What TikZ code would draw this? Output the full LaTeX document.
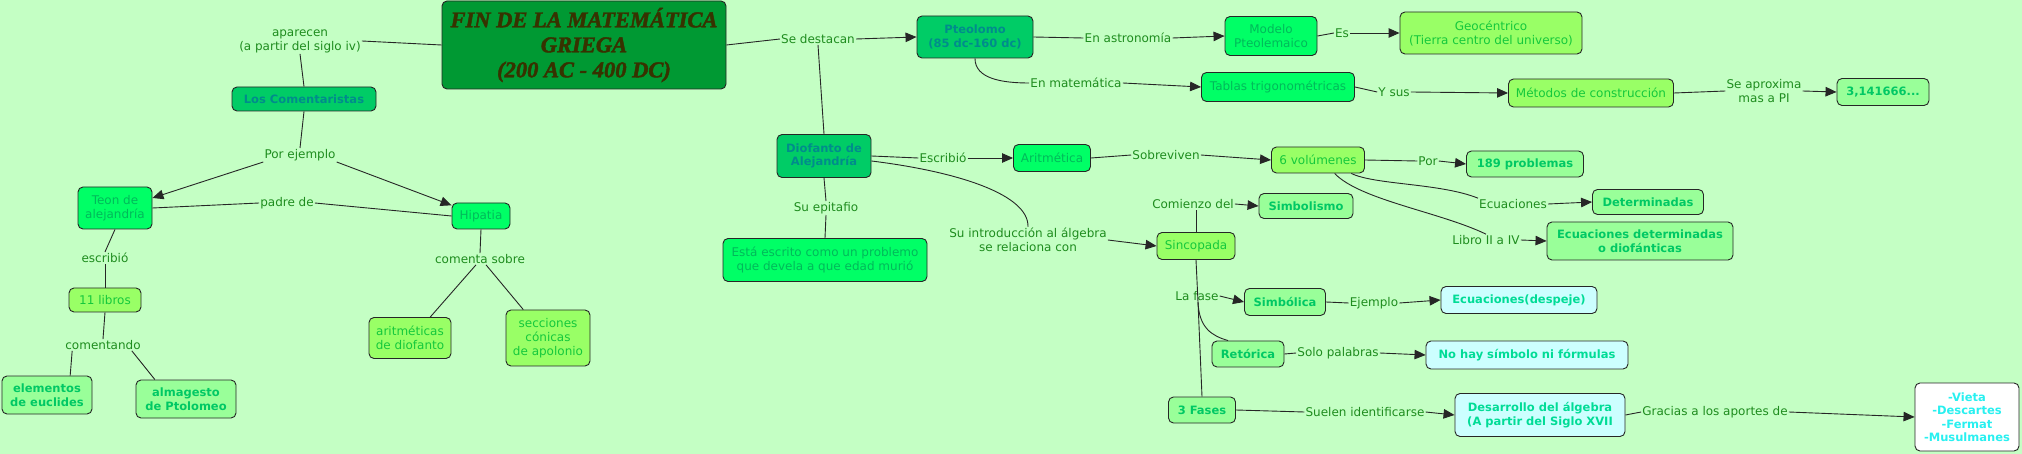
\documentclass[tikz,border=0pt]{standalone}
\usepackage{fontspec}
\setmainfont{DejaVu Sans}
\newfontfamily\titlefont{Liberation Serif}[BoldItalicFeatures={FakeBold=2}]
\usetikzlibrary{arrows.meta}
\definecolor{bg}{RGB}{196,255,196}
\definecolor{lblc}{RGB}{30,140,30}
\definecolor{fTitle}{RGB}{0,153,51}
\definecolor{tTitle}{RGB}{55,50,0}
\definecolor{fA}{RGB}{0,204,102}
\definecolor{tA}{RGB}{0,140,140}
\definecolor{fB}{RGB}{0,255,102}
\definecolor{tB}{RGB}{0,185,90}
\definecolor{fC}{RGB}{153,255,102}
\definecolor{tC}{RGB}{20,200,60}
\definecolor{fD}{RGB}{153,255,153}
\definecolor{tD}{RGB}{0,200,100}
\definecolor{fE}{RGB}{204,255,255}
\definecolor{tE}{RGB}{0,220,150}
\definecolor{tF}{RGB}{40,240,240}
\begin{document}
\begin{tikzpicture}[x=1pt,y=-1pt,
  box/.style={draw=black!85, line width=0.9pt, rounded corners=5pt, align=center, inner sep=1pt},
  wh/.style 2 args={minimum width=#1pt, minimum height=#2pt},
  nfont/.style={font=\fontsize{12}{14}\selectfont},
  bfont/.style={font=\fontsize{11.5}{13.5}\selectfont\bfseries},
  ctitle/.style={box, fill=fTitle, text=tTitle, font=\titlefont\bfseries\itshape\fontsize{22.5}{25}\selectfont},
  cA/.style={box, fill=fA, text=tA, bfont},
  cB/.style={box, fill=fB, text=tB, nfont},
  cC/.style={box, fill=fC, text=tC, nfont},
  cD/.style={box, fill=fD, text=tD, bfont},
  cE/.style={box, fill=fE, text=tE, bfont},
  cF/.style={box, fill=white, text=tF, bfont},
  lbl/.style={text=lblc, inner sep=1pt, align=center, font=\fontsize{12}{14}\selectfont},
  conn/.style={draw=black!85, line width=0.9pt},
  arr/.style={conn, -{Triangle[length=11pt,width=9.5pt]}}
]
\useasboundingbox (0,0) rectangle (2022,454);
\fill[bg] (0,0) rectangle (2022,454);

% concept nodes
\node[ctitle, wh={284}{88}] (title) at (584,45) {FIN DE LA MATEMÁTICA\\GRIEGA\\(200 AC - 400 DC)};
\node[cA, wh={144}{24}] (LC) at (304,99) {Los Comentaristas};
\node[cB, wh={74}{42}] (Teon) at (115,208) {Teon de\\alejandría};
\node[cB, wh={58}{26}] (Hip) at (481,216) {Hipatia};
\node[cC, wh={72}{24}] (libros) at (105,300) {11 libros};
\node[cD, wh={90}{38}] (elem) at (47,395) {elementos\\de euclides};
\node[cD, wh={100}{38}] (alma) at (186,399) {almagesto\\de Ptolomeo};
\node[cC, wh={82}{41}] (arit) at (410,338) {aritméticas\\de diofanto};
\node[cC, wh={84}{56}] (secc) at (548,338) {secciones\\cónicas\\de apolonio};
\node[cA, wh={116}{42}] (Pteo) at (975,37) {Pteolomo\\(85 dc-160 dc)};
\node[cB, wh={92}{39}] (Mod) at (1271,36) {Modelo\\Pteolemaico};
\node[cC, wh={182}{42}] (Geo) at (1491,33) {Geocéntrico\\(Tierra centro del universo)};
\node[cB, wh={153}{29}] (Tab) at (1278,87) {Tablas trigonométricas};
\node[cC, wh={165}{28}] (Met) at (1591,93) {Métodos de construcción};
\node[cD, wh={92}{27}] (pi) at (1883,92) {3,141666...};
\node[cA, wh={94}{43}] (Dio) at (824,156) {Diofanto de\\Alejandría};
\node[cB, wh={204}{43}] (Esta) at (825,260) {Está escrito como un problemo\\que devela a que edad murió};
\node[cB, wh={77}{27}] (Arit) at (1052,158) {Aritmética};
\node[cC, wh={93}{26}] (vol) at (1318,160) {6 volúmenes};
\node[cD, wh={117}{26}] (p189) at (1525,164) {189 problemas};
\node[cD, wh={111}{25}] (Det) at (1648,202) {Determinadas};
\node[cD, wh={186}{38}] (EcD) at (1640,241) {Ecuaciones determinadas\\o diofánticas};
\node[cD, wh={94}{25}] (Simb) at (1306,206) {Simbolismo};
\node[cC, wh={78}{27}] (Sinc) at (1196,246) {Sincopada};
\node[cD, wh={81}{27}] (Simbca) at (1285,302) {Simbólica};
\node[cD, wh={72}{26}] (Ret) at (1248,354) {Retórica};
\node[cD, wh={67}{26}] (F3) at (1202,410) {3 Fases};
\node[cE, wh={156}{27}] (Ecdes) at (1519,300) {Ecuaciones(despeje)};
\node[cE, wh={202}{28}] (NoHay) at (1527,355) {No hay símbolo ni fórmulas};
\node[cE, wh={170}{43}] (Des) at (1540,415) {Desarrollo del álgebra\\(A partir del Siglo XVII};
\node[cF, wh={104}{68}] (Vieta) at (1967,417) {-Vieta\\-Descartes\\-Fermat\\-Musulmanes};

% linking phrases
\node[lbl] (lA) at (300,41) {aparecen\\(a partir del siglo iv)};
\node[lbl] (lPor) at (300,155) {Por ejemplo};
\node[lbl] (lPadre) at (287,203) {padre de};
\node[lbl] (lEsc) at (105,258) {escribió};
\node[lbl] (lCom) at (103,345) {comentando};
\node[lbl] (lComS) at (480,259) {comenta sobre};
\node[lbl] (lSe) at (818,39) {Se destacan};
\node[lbl] (lAstr) at (1128,38) {En astronomía};
\node[lbl] (lMat) at (1076,83) {En matemática};
\node[lbl] (lEs) at (1342,33) {Es};
\node[lbl] (lY) at (1394,92) {Y sus};
\node[lbl] (lAprox) at (1764,91) {Se aproxima\\mas a PI};
\node[lbl] (lEscD) at (943,158) {Escribió};
\node[lbl] (lSobre) at (1166,155) {Sobreviven};
\node[lbl] (lPor2) at (1428,161) {Por};
\node[lbl] (lEcu) at (1513,204) {Ecuaciones};
\node[lbl] (lLib) at (1486,240) {Libro II a IV};
\node[lbl] (lComz) at (1193,204) {Comienzo del};
\node[lbl] (lEpi) at (826,208) {Su epitafio};
\node[lbl] (lIntro) at (1028,240) {Su introducción al álgebra\\se relaciona con};
\node[lbl] (lFase) at (1197,296) {La fase};
\node[lbl] (lEj) at (1374,303) {Ejemplo};
\node[lbl] (lSolo) at (1338,353) {Solo palabras};
\node[lbl] (lSuel) at (1365,412) {Suelen identificarse};
\node[lbl] (lGrac) at (1715,412) {Gracias a los aportes de};
\coordinate (fj) at (1198,302);

% connectors
\draw[conn] (title.west) -- (lA.east);
\draw[conn] (lA.south) -- (LC.north);
\draw[conn] (LC.south) -- (lPor.north);
\draw[arr] (lPor.south west) -- (Teon.15);
\draw[arr] (lPor.south east) -- (Hip.160);
\draw[conn] (Teon.east) -- (lPadre.west);
\draw[conn] (lPadre.east) -- (Hip.west);
\draw[conn] (Teon.south) -- (lEsc.north);
\draw[conn] (lEsc.south) -- (libros.north);
\draw[conn] (libros.south) -- (lCom.north);
\draw[conn] (lCom.south west) ++(8,0) -- (elem.40);
\draw[conn] (lCom.south east) ++(-10,0) -- (alma.148);
\draw[conn] (Hip.south) -- (lComS.north);
\draw[conn] (lComS.south) ++(-4,0) -- (arit.46);
\draw[conn] (lComS.south) ++(6,0) -- (secc.131);
\draw[conn] (title.east) -- (lSe.west);
\draw[arr] (lSe.east) -- (Pteo.west);
\draw[conn] (lSe.south) -- (Dio.north);
\draw[conn] (Pteo.east) -- (lAstr.west);
\draw[arr] (lAstr.east) -- (Mod.west);
\draw[conn] (Pteo.south) .. controls +(0,20) and +(-28,0) .. (lMat.west);
\draw[arr] (lMat.east) -- (Tab.west);
\draw[conn] (Mod.east) -- (lEs.west);
\draw[arr] (lEs.east) -- (Geo.west);
\draw[conn] (Tab.east) -- (lY.west);
\draw[arr] (lY.east) -- (Met.west);
\draw[conn] (Met.east) -- (lAprox.west);
\draw[arr] (lAprox.east) -- (pi.west);
\draw[conn] (Dio.east) -- (lEscD.west);
\draw[arr] (lEscD.east) -- (Arit.west);
\draw[conn] (Arit.east) -- (lSobre.west);
\draw[arr] (lSobre.east) -- (vol.west);
\draw[conn] (vol.east) -- (lPor2.west);
\draw[arr] (lPor2.east) -- (p189.west);
\draw[conn] (vol.-22) .. controls (1375,185) and (1440,183) .. (lEcu.north west);
\draw[arr] (lEcu.east) -- (Det.west);
\draw[conn] (vol.-39) .. controls (1360,200) and (1440,212) .. (lLib.north);
\draw[arr] (lLib.east) -- (EcD.west);
\draw[conn] (Sinc.north) -- (lComz.south -| Sinc.north);
\draw[arr] (lComz.east) -- (Simb.west);
\draw[conn] (Dio.-6) .. controls (960,172) and (1029,195) .. (lIntro.north);
\draw[arr] (lIntro.east) -- (Sinc.west);
\draw[conn] (Dio.south) -- (lEpi.north);
\draw[conn] (lEpi.south) -- (Esta.north);
\draw[conn] (Sinc.south) -- (fj) -- (F3.north);
\draw[conn] (fj) .. controls (1199,328) and (1212,336) .. (Ret.146);
\draw[arr] (lFase.east) -- (Simbca.west);
\draw[conn] (Simbca.east) -- (lEj.west);
\draw[arr] (lEj.east) -- (Ecdes.west);
\draw[conn] (Ret.east) -- (lSolo.west);
\draw[arr] (lSolo.east) -- (NoHay.west);
\draw[conn] (F3.east) -- (lSuel.west);
\draw[arr] (lSuel.east) -- (Des.west);
\draw[conn] (Des.east) -- (lGrac.west);
\draw[arr] (lGrac.east) -- (Vieta.west);
\end{tikzpicture}
\end{document}
